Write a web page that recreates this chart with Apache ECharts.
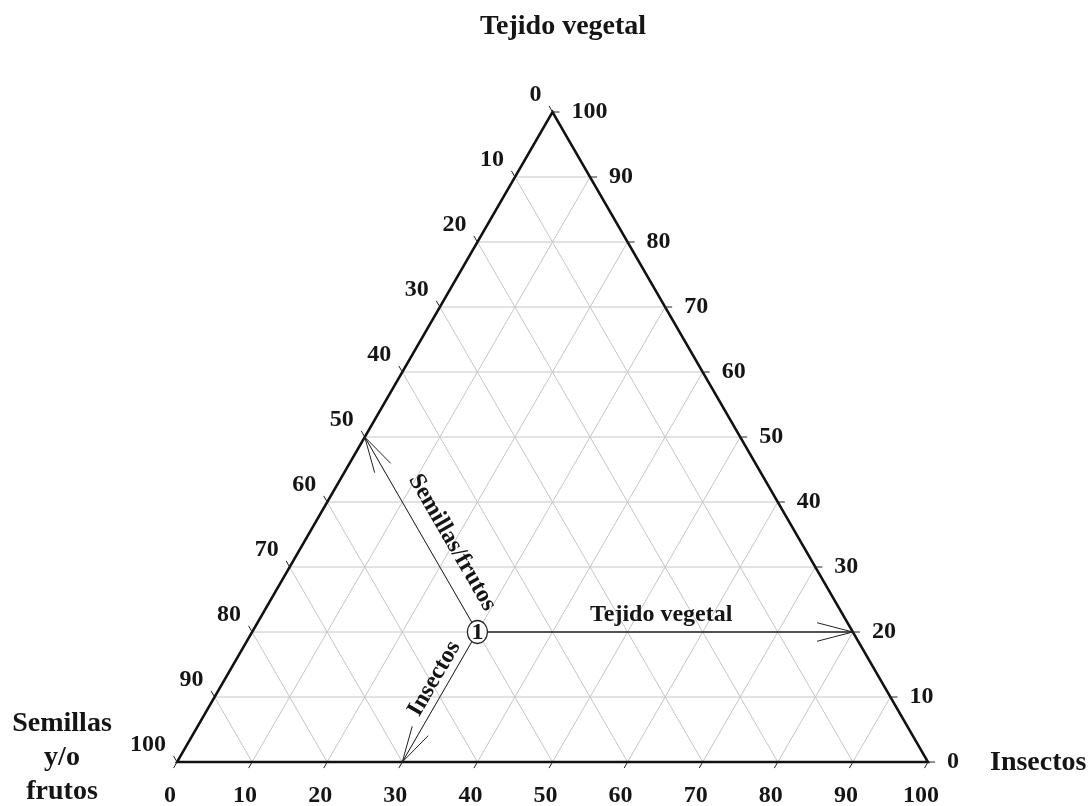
<!DOCTYPE html>
<html><head><meta charset="utf-8">
<script src="https://cdn.jsdelivr.net/npm/echarts@6/dist/echarts.min.js"></script>
<style>html,body{margin:0;padding:0;background:#fff}#c{width:1089px;height:806px}</style>
</head><body><div id="c"></div>
<script>
// ---- data ----
const chartTitle = 'Tejido vegetal';
const leftVertexName = 'Semillas\ny/o\nfrutos';
const rightVertexName = 'Insectos';
const tickValues = [0, 10, 20, 30, 40, 50, 60, 70, 80, 90, 100];
const tickLabels = ['0', '10', '20', '30', '40', '50', '60', '70', '80', '90', '100'];
const gridValues = [10, 20, 30, 40, 50, 60, 70, 80, 90];
const pointLabels = ['1'];
const semillas = [50];
const insectos = [30];
const tejido = [20];
const arrowLabels = ['Semillas/frutos', 'Insectos', 'Tejido vegetal'];

// ---- helpers ----
const SQ = Math.sqrt(3) / 2;
const FONT = '"Liberation Serif", "Times New Roman", serif';
const INK = '#151515';
function tern(ins, tej) { return [ins + tej / 2, tej * SQ]; }
function gridEnds(v, f) {
  if (f === 0) return [tern(v, 0), tern(v, 100 - v)];
  if (f === 1) return [tern(0, v), tern(100 - v, v)];
  return [tern(100 - v, 0), tern(0, 100 - v)];
}
const gridData = [];
gridValues.forEach(v => { gridData.push([v, 0]); gridData.push([v, 1]); gridData.push([v, 2]); });
const RX = 10, RY = 11.5;
function arrow(P, tip, width) {
  const dx = tip[0] - P[0], dy = tip[1] - P[1];
  const L = Math.hypot(dx, dy), ux = dx / L, uy = dy / L;
  const r = 1 / Math.sqrt((ux / RX) ** 2 + (uy / RY) ** 2);
  const s = [P[0] + ux * r, P[1] + uy * r];
  const a = 14.5 * Math.PI / 180, bl = 37, c = Math.cos(a), sn = Math.sin(a);
  const b1 = [tip[0] - bl * (ux * c - uy * sn), tip[1] - bl * (uy * c + ux * sn)];
  const b2 = [tip[0] - bl * (ux * c + uy * sn), tip[1] - bl * (uy * c - ux * sn)];
  return [
    { type: 'line', shape: { x1: s[0], y1: s[1], x2: tip[0], y2: tip[1] }, style: { stroke: '#222', lineWidth: width } },
    { type: 'polyline', shape: { points: [b1, tip, b2] }, style: { stroke: '#222', lineWidth: 1, fill: null } }
  ];
}
function txt(x, y, text, size, align, vAlign, rotation) {
  return { type: 'text', x: x, y: y, rotation: rotation || 0,
    style: { x: 0, y: 0, text: text, fill: INK, font: 'bold ' + size + 'px ' + FONT,
      align: align, verticalAlign: vAlign, lineHeight: 34 } };
}

const chart = echarts.init(document.getElementById('c'));
chart.setOption({
  backgroundColor: '#fff',
  animation: false,
  title: { text: chartTitle, left: 563, top: 13, textAlign: 'center', padding: 0,
    textStyle: { fontFamily: FONT, fontWeight: 'bold', fontSize: 28, color: INK } },
  grid: { left: 177, top: 112, width: 751, height: 650 },
  xAxis: { type: 'value', min: 0, max: 100, show: false },
  yAxis: { type: 'value', min: 0, max: 100 * SQ, show: false },
  series: [
    { type: 'custom', clip: false, z: 1, data: gridData,
      renderItem: (params, api) => {
        const [a, b] = gridEnds(api.value(0), api.value(1));
        const p = api.coord(a), q = api.coord(b);
        return { type: 'line', shape: { x1: p[0], y1: p[1], x2: q[0], y2: q[1] }, style: { stroke: '#c6c6c6', lineWidth: 1 } };
      } },
    { type: 'custom', clip: false, z: 2, data: [[0, 0]],
      renderItem: (params, api) => {
        const A = api.coord(tern(0, 0)), B = api.coord(tern(100, 0)), C = api.coord(tern(0, 100));
        return { type: 'group', children: [
          { type: 'polygon', shape: { points: [A, B, C] }, style: { stroke: '#111', lineWidth: 2.5, fill: null, lineJoin: 'miter' } },
          txt(A[0] - 115, A[1] - 4, leftVertexName, 28, 'center', 'middle'),
          txt(B[0] + 62, B[1] + 1, rightVertexName, 28, 'left', 'middle')
        ] };
      } },
    { type: 'custom', clip: false, z: 3, data: tickValues.map((v, i) => [v, i]),
      renderItem: (params, api) => {
        const v = api.value(0), lab = tickLabels[api.value(1)];
        const pb = api.coord(tern(v, 0));
        const pr = api.coord(tern(100 - v, v));
        const pl = api.coord(tern(0, 100 - v));
        const ln = (p, dx, dy) => ({ type: 'line', shape: { x1: p[0], y1: p[1], x2: p[0] + dx, y2: p[1] + dy }, style: { stroke: '#222', lineWidth: 1 } });
        return { type: 'group', children: [
          ln(pb, -3.5, 6.1), ln(pr, 7, 0), ln(pl, -3.5, -6.1),
          txt(pb[0] - 7, pb[1] + 34, lab, 24, 'center', 'middle'),
          txt(pr[0] + 19, pr[1], lab, 24, 'left', 'middle'),
          txt(pl[0] - 11, pl[1] - 17, lab, 24, 'right', 'middle')
        ] };
      } },
    { type: 'custom', clip: false, z: 4,
      data: pointLabels.map((l, i) => [insectos[i], tejido[i], semillas[i], i]),
      renderItem: (params, api) => {
        const ins = api.value(0), tej = api.value(1), sem = api.value(2), idx = api.value(3);
        const P = api.coord(tern(ins, tej));
        const tipT = api.coord(tern(100 - tej, tej));
        const tipS = api.coord(tern(0, 100 - sem));
        const tipI = api.coord(tern(ins, 0));
        const unit = (t) => { const dx = t[0] - P[0], dy = t[1] - P[1], L = Math.hypot(dx, dy); return [dx / L, dy / L]; };
        const uS = unit(tipS), uI = unit(tipI);
        const cS = [P[0] + uS[0] * 90 + (-uS[1]) * 23, P[1] + uS[1] * 90 + uS[0] * 23];
        const cI = [P[0] + uI[0] * 62 + (-uI[1]) * 14, P[1] + uI[1] * 62 + uI[0] * 14];
        return { type: 'group', children: [
          ...arrow(P, tipT, 1.6), ...arrow(P, tipS, 1), ...arrow(P, tipI, 1),
          { type: 'circle', x: P[0], y: P[1], scaleY: RY / RX, shape: { cx: 0, cy: 0, r: RX }, style: { stroke: '#222', lineWidth: 1.2, fill: '#fff' } },
          txt(P[0], P[1] + 1, pointLabels[idx], 24, 'center', 'middle'),
          txt((P[0] + tipT[0]) / 2 - 4, P[1] - 17, arrowLabels[2], 24, 'center', 'middle'),
          txt(cS[0], cS[1], arrowLabels[0], 24, 'center', 'middle', -Math.PI / 3),
          txt(cI[0], cI[1], arrowLabels[1], 24, 'center', 'middle', Math.PI / 3)
        ] };
      } }
  ]
});
</script>
</body></html>
